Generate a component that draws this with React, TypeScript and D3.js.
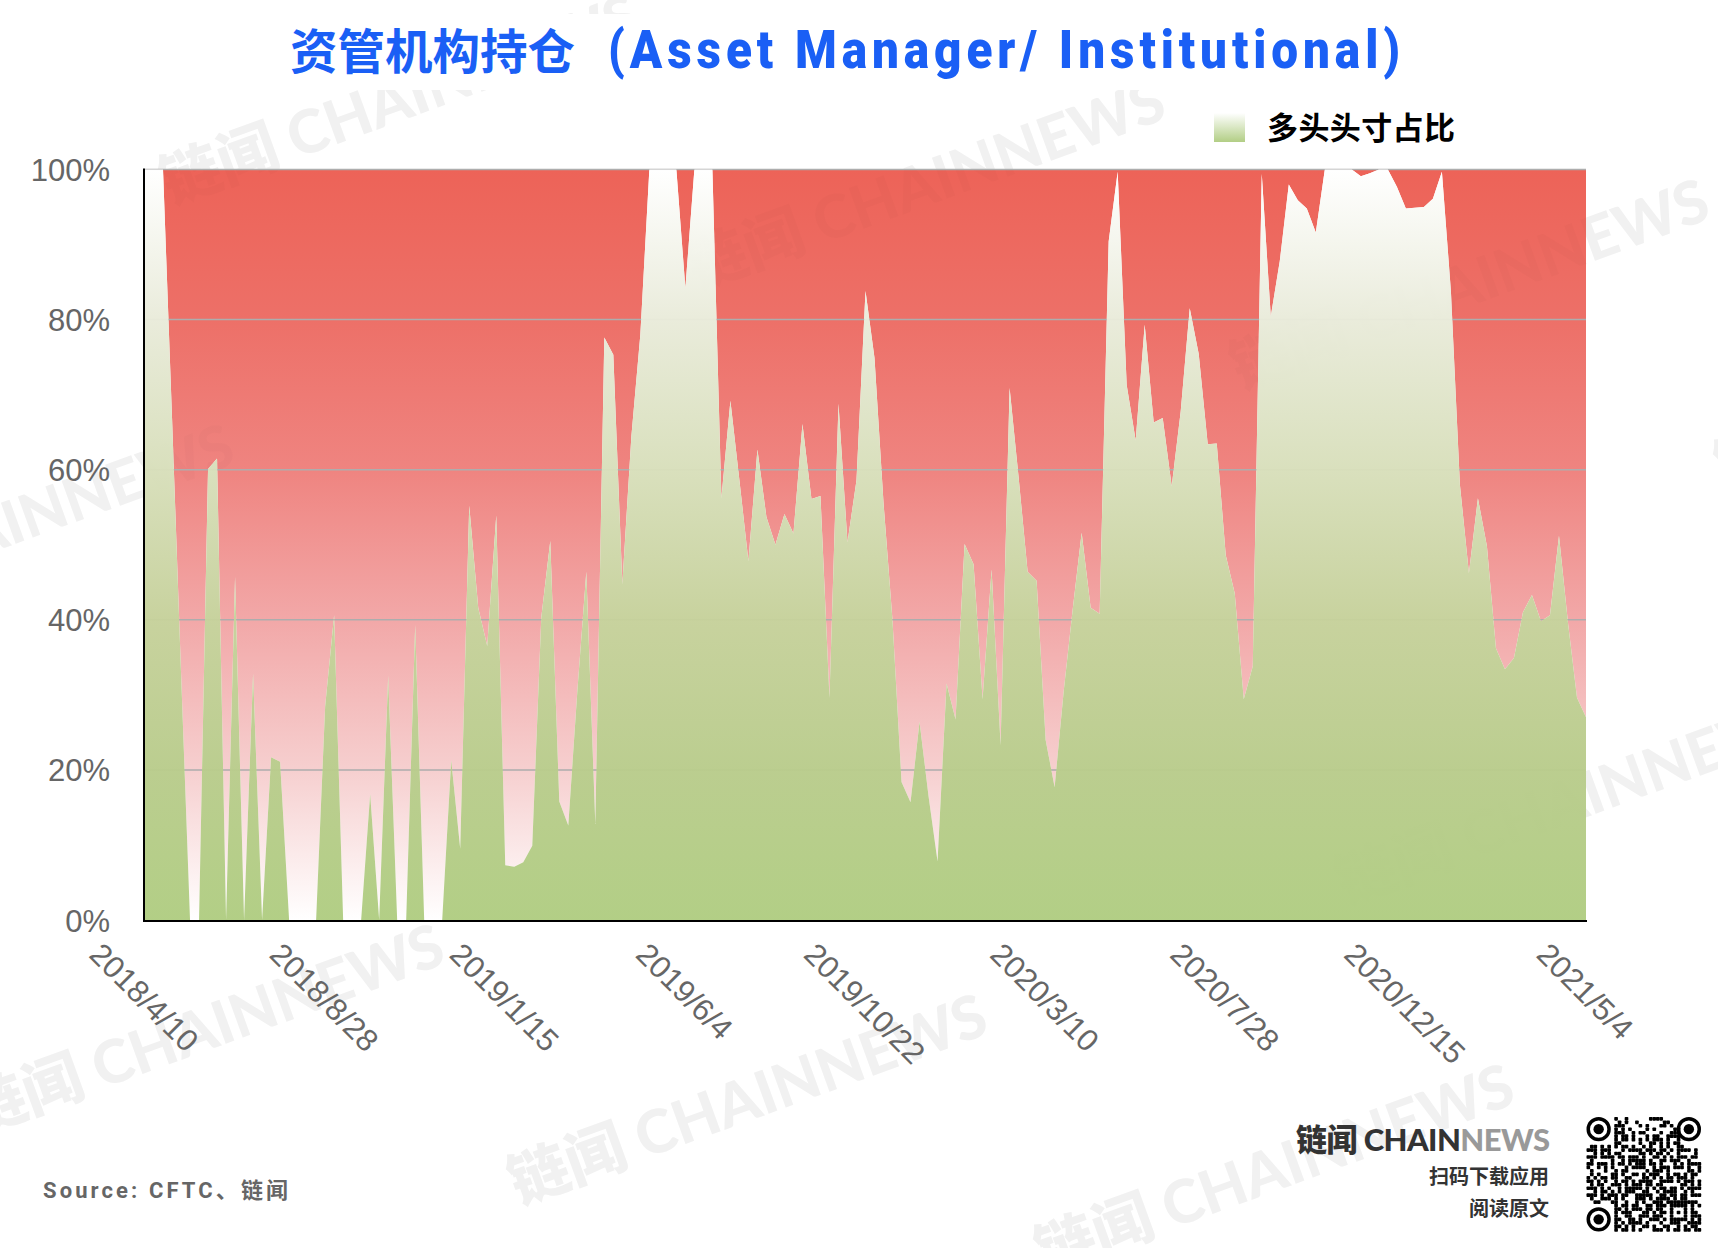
import React from "react";
import * as d3 from "d3";

const longShare = [
  100, 100, 100, 67, 33, 0, 0, 60.1, 61.5, 0,
  45.7, 0, 32.8, 0, 21.7, 21.1, 0, 0, 0, 0,
  28.4, 40.6, 0, 0, 0, 16.8, 0, 32.5, 0, 0,
  39.3, 0, 0, 0, 21.3, 9.5, 55.2, 41.6, 36.5, 53.9,
  7.3, 7.1, 7.7, 9.9, 40.3, 50.5, 15.8, 12.6, 30.4, 46.4,
  12.8, 77.6, 75.3, 44.7, 64.4, 78, 100, 100, 100, 100,
  84.2, 100, 100, 100, 56.2, 69.2, 58.6, 47.8, 62.7, 53.7,
  50, 54.1, 51.5, 66.1, 56.1, 56.5, 29.6, 68.8, 50.3, 58.6,
  83.8, 74.9, 55.6, 39.9, 18.4, 15.7, 26.4, 16.5, 7.8, 31.5,
  26.7, 50.1, 47.4, 29.4, 46.7, 23.3, 70.9, 59, 46.4, 45.2,
  24, 17.7, 30.4, 41.3, 51.6, 41.6, 40.8, 90.4, 99.7, 71.3,
  63.9, 79.3, 66.3, 66.9, 57.8, 67.8, 81.5, 75.4, 63.4, 63.5,
  48.6, 43.5, 29.4, 33.8, 99.4, 80.4, 87.8, 98, 95.9, 94.8,
  91.6, 100, 100, 100, 100, 99.1, 99.5, 100, 100, 97.7,
  94.8, 94.9, 95, 96.1, 99.7, 83.8, 58, 46.2, 56.2, 49.8,
  36.2, 33.4, 34.9, 41, 43.3, 39.8, 40.6, 51.2, 39.6, 29.6,
  27,
];
const dateLabels = [
  "2018/4/10", "2018/8/28", "2019/1/15", "2019/6/4", "2019/10/22",
  "2020/3/10", "2020/7/28", "2020/12/15", "2021/5/4",
];
const yTicks = [0, 20, 40, 60, 80, 100];
const legendLabel = "多头头寸占比";
const titleZh = "资管机构持仓";
const titleEn = "(Asset Manager/ Institutional)";
const sourceText = "Source: CFTC、链闻";
const watermarkText = "链闻 CHAINNEWS";

const watermarks: [number, number][] = [
  [170, 205], [696, 290], [1240, 390], [-235, 635], [1725, 490],
  [-25, 1135], [518, 1205], [1045, 1275], [1345, 905],
];

const qrRows = [
  "........#..#......####...........",
  ".........#.#..#.......##.........",
  "........###....#.#...##.#........",
  "........#.#.#....#.#.....##......",
  "........###..#.##....#..###......",
  "........#.##.#...#.##..####......",
  "........#.##.#.#.#.###.#..#......",
  "........##.....#..##.#.#.##......",
  ".##.#.#.#.##.#..#.#..#.#..##.....",
  "###.###...#.####.###.##.#.####.#.",
  "..#.#.#.##.....##.#.##.#..#....#.",
  "###.####.##.###.#..##.#.#.###.##.",
  ".#.....#..#.#####.#..##.###..#...",
  "##.###.#.##.#.###.##.#...#.#.####",
  "#..#.#.#...#.####..#.###.###.#..#",
  ".#...#..#.##.....#.###.#.....##.#",
  ".#.#...##.#..##.#.###..#.##.#.##.",
  "#.#.##.##..##...##.#.#.##.###.#..",
  "##.#.#..#.##.#.####..####.#.###.#",
  ".#.##..###.#.###.##.##.....##.#.#",
  "###.#.#..#.#####.#.#.##.##.#.####",
  "..#.##.#.#.###..##..#.####..#.#..",
  "###.#.###.##..#####..##.##.##.###",
  ".#..###.#.#...###.#.####.#.##....",
  "..##...##..#..#.#..###.#########.",
  "........#.##.##..##.###.#####.#.#",
  "........##.#.###.##.##..#...#.#..",
  "........#.###...##.#.##.#.#.#.##.",
  "........#..##..###.###..#...#.###",
  "........##..##.#..###.#.#####.#.#",
  "........#.#.####.#...#..###..####",
  "........##.#.#..##.#..##..#.#.##.",
  "........#.##.#.#...###.#.##.##.##",
];

const L = 145, R = 1586, T = 169.5, B = 920;
const SANS = '"Liberation Sans", Arial, sans-serif';
const CJK = '"Noto Sans CJK SC", sans-serif';

export default function App() {
  const x = d3.scaleLinear().domain([0, longShare.length - 1]).range([L, R]);
  const y = d3.scaleLinear().domain([0, 100]).range([B, T]);
  const idx = longShare.map((_, i) => i);
  const green = d3.area<number>().x((i) => x(i)).y0(y(0)).y1((i) => y(longShare[i]))(idx) as string;
  const red = d3.area<number>().x((i) => x(i)).y0((i) => y(longShare[i])).y1(y(100))(idx) as string;
  const labelWidth = (s: string) =>
    d3.sum(Array.from(s), (c) => (c === "/" ? 0.278 : 0.556)) * 31;

  const qrX = 1586.5, qrY = 1117, cell = 114.5 / 33;
  const finders: [number, number][] = [[3.5, 3.5], [29.5, 3.5], [3.5, 29.5]];

  const wm = (fill: string, op: number) =>
    watermarks.map(([wx, wy], i) => (
      <text
        key={i}
        transform={`translate(${wx},${wy}) rotate(-20)`}
        fontFamily={`Lato, ${CJK}`}
        fontWeight={900}
        fontSize={60}
        fill={fill}
        fillOpacity={op}
      >
        {watermarkText}
      </text>
    ));

  return (
    <svg
      width={1718}
      height={1248}
      viewBox="0 0 1718 1248"
      style={{ position: "absolute", left: 0, top: 0, display: "block", background: "#fff" }}
    >
      <defs>
        <linearGradient id="redG" gradientUnits="userSpaceOnUse" x1={0} x2={0} y1={T} y2={B}>
          <stop offset="0" stopColor="#ed6358" />
          <stop offset="0.2" stopColor="#ed7068" />
          <stop offset="0.4" stopColor="#ef8480" />
          <stop offset="0.6" stopColor="#f2a8a8" />
          <stop offset="0.8" stopColor="#f6cfcf" />
          <stop offset="1" stopColor="#ffffff" />
        </linearGradient>
        <linearGradient id="greenG" gradientUnits="userSpaceOnUse" x1={0} x2={0} y1={T} y2={B}>
          <stop offset="0" stopColor="#ffffff" />
          <stop offset="0.2" stopColor="#e9ebda" />
          <stop offset="0.4" stopColor="#d8dfbb" />
          <stop offset="0.6" stopColor="#c6d19b" />
          <stop offset="0.8" stopColor="#b9cc8c" />
          <stop offset="1" stopColor="#b0cd82" />
        </linearGradient>
        <linearGradient id="legendG" x1={0} x2={0} y1={0} y2={1}>
          <stop offset="0" stopColor="#ffffff" />
          <stop offset="1" stopColor="#b2ce85" />
        </linearGradient>
        <clipPath id="redClip">
          <path d={red} />
        </clipPath>
      </defs>

      {wm("#f1f1f1", 1)}
      <rect x={285} y={14} width={1125} height={76} fill="#fff" />

      <text x={290} y={69} fontFamily={CJK} fontWeight={700} fontSize={47.5} fill="#1a5ff5">
        {titleZh}
      </text>
      <text
        transform="translate(608,68) scale(0.9,1)"
        fontFamily="Roboto, sans-serif"
        fontWeight={900}
        fontSize={53}
        fill="#1a5ff5"
        textLength={880}
        lengthAdjust="spacing"
      >
        {titleEn}
      </text>

      <rect x={1214} y={113} width={31} height={29} fill="url(#legendG)" />
      <text x={1267} y={139} fontFamily={CJK} fontWeight={700} fontSize={31} fill="#000" textLength={188}>
        {legendLabel}
      </text>

      <path d={red} fill="url(#redG)" />
      <g clipPath="url(#redClip)">{wm("#000", 0.016)}</g>
      {yTicks.map((t) => (
        <line
          key={t}
          x1={L}
          x2={R}
          y1={y(t)}
          y2={y(t)}
          stroke="#adadad"
          strokeWidth={t === 0 ? 0 : 1.5}
        />
      ))}
      <path d={green} fill="url(#greenG)" opacity={0.97} />

      <line x1={144} x2={144} y1={T - 1} y2={B + 2} stroke="#000" strokeWidth={2} />
      <line x1={143} x2={R + 1} y1={B + 1} y2={B + 1} stroke="#000" strokeWidth={2} />

      {yTicks.map((t) => (
        <text
          key={t}
          x={110}
          y={y(t) + 1}
          textAnchor="end"
          dominantBaseline="central"
          fontFamily={SANS}
          fontSize={31}
          fill="#666"
        >
          {t}%
        </text>
      ))}
      {dateLabels.map((d, i) => {
        const w = labelWidth(d);
        const cy = 941 + ((w + 22) * Math.SQRT1_2) / 2;
        return (
          <text
            key={d}
            transform={`translate(${x(i * 20) - 1},${cy}) rotate(45)`}
            textAnchor="middle"
            dominantBaseline="central"
            fontFamily={SANS}
            fontSize={31}
            fill="#666"
          >
            {d}
          </text>
        );
      })}

      <text
        x={43}
        y={1198}
        fontFamily={`Roboto, ${CJK}`}
        fontWeight={700}
        fontSize={22}
        fill="#666"
        textLength={245}
      >
        {sourceText}
      </text>

      <text x={1296} y={1151} fontFamily={`Lato, ${CJK}`} fontWeight={900} fontSize={31} fill="#333" textLength={254}>
        链闻 CHAIN<tspan fill="#999">NEWS</tspan>
      </text>
      <text x={1549} y={1184} textAnchor="end" fontFamily={CJK} fontWeight={700} fontSize={20} fill="#333">
        扫码下载应用
      </text>
      <text x={1549} y={1216} textAnchor="end" fontFamily={CJK} fontWeight={700} fontSize={20} fill="#333">
        阅读原文
      </text>

      <g fill="#000">
        {qrRows.flatMap((row, r) =>
          Array.from(row).map((c, k) =>
            c === "#" ? (
              <rect
                key={`${r}-${k}`}
                x={qrX + k * cell}
                y={qrY + r * cell}
                width={cell + 0.2}
                height={cell + 0.2}
                rx={0.8}
              />
            ) : null
          )
        )}
      </g>
      {finders.map(([fx, fy], i) => (
        <g key={i}>
          <circle cx={qrX + fx * cell} cy={qrY + fy * cell} r={cell * 3} fill="none" stroke="#000" strokeWidth={cell} />
          <circle cx={qrX + fx * cell} cy={qrY + fy * cell} r={cell * 1.5} fill="#000" />
        </g>
      ))}
    </svg>
  );
}
